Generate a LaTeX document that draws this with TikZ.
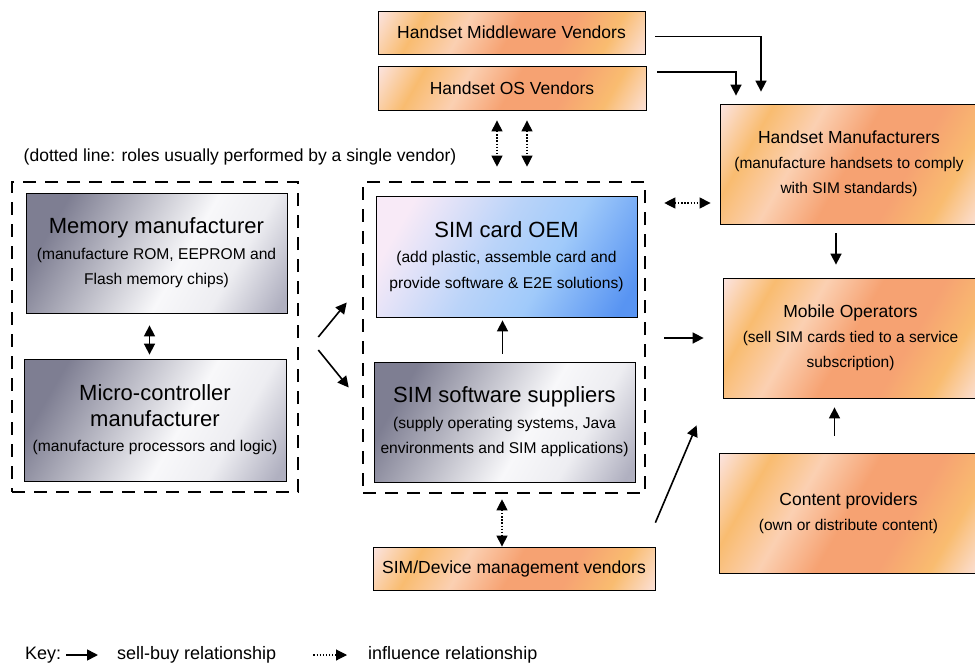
\documentclass[tikz,border=0pt]{standalone}
\usepackage{fontspec}
\setmainfont{Liberation Sans}
\usetikzlibrary{arrows.meta,positioning}

\definecolor{pkwhite}{RGB}{252,234,242}
\definecolor{orgA}{RGB}{249,188,112}
\definecolor{peachlt}{RGB}{251,208,178}
\definecolor{orgB}{RGB}{246,162,114}
\definecolor{mdark}{RGB}{126,126,146}
\definecolor{mlight}{RGB}{248,248,250}
\definecolor{mmid}{RGB}{176,176,192}
\definecolor{bpink}{RGB}{248,234,247}
\definecolor{bmid}{RGB}{160,202,250}
\definecolor{bdeep}{RGB}{88,148,242}

\pgfdeclarehorizontalshading{peach}{100bp}{color(0bp)=(pkwhite); color(14bp)=(pkwhite);
  color(27bp)=(orgA); color(38bp)=(peachlt); color(50bp)=(orgB); color(63bp)=(orgB);
  color(74bp)=(orgA); color(87bp)=(pkwhite); color(100bp)=(pkwhite)}
\pgfdeclarehorizontalshading{metal}{100bp}{color(0bp)=(mdark); color(25bp)=(mdark);
  color(56bp)=(mlight); color(68bp)=(mlight!85!mmid); color(82bp)=(mmid); color(100bp)=(mmid)}
\pgfdeclarehorizontalshading{azure}{100bp}{color(0bp)=(bpink); color(24bp)=(bpink);
  color(46bp)=(bmid!70!bpink); color(60bp)=(bmid); color(80bp)=(bdeep); color(100bp)=(bdeep)}

\begin{document}
\begin{tikzpicture}[x=1pt, y=-1pt,
  obox/.style={draw, line width=0.8pt, shading=peach, shading angle=-30, align=center,
    inner sep=0pt, font=\fontsize{15.5}{25}\selectfont},
  gbox/.style={draw, line width=0.8pt, shading=metal, shading angle=-30, align=center,
    inner sep=0pt, font=\fontsize{15.6}{25.5}\selectfont},
  bbox/.style={draw, line width=0.8pt, shading=azure, shading angle=-30, align=center,
    inner sep=0pt, font=\fontsize{15.6}{25.5}\selectfont},
  grp/.style={draw, line width=2.6pt, dash pattern=on 13pt off 9pt, inner sep=0pt},
  sb/.style={-{Triangle[length=11pt,width=11pt]}, line width=1.6pt},
  infl/.style={{Triangle[length=11pt,width=11pt]}-{Triangle[length=11pt,width=11pt]},
    line width=1.1pt, dash pattern=on 1.3pt off 1.8pt},
  mid/.style={font=\fontsize{17.5}{25}\selectfont}
]
\clip (0,0) rectangle (975,672);

% Groups (one vendor)
\node[grp, minimum width=286pt, minimum height=310pt] (leftgrp) at (155,337) {};
\node[grp, minimum width=282pt, minimum height=311pt] (midgrp) at (504,337.5) {};
\node[mid] (note) at (240,157) {(dotted line: roles usually performed by a single vendor)};

% Chip makers
\node[gbox, minimum width=261pt, minimum height=120pt] (mem) at (156.5,253)
  {{\fontsize{22}{26}\selectfont Memory manufacturer}\\(manufacture ROM, EEPROM and\\Flash memory chips)};
\node[gbox, minimum width=262pt, minimum height=122pt] (mcu) at (155,420)
  {{\fontsize{22}{26}\selectfont Micro-controller}\\{\fontsize{22}{26}\selectfont manufacturer}\\(manufacture processors and logic)};

% Card makers
\node[bbox, minimum width=261pt, minimum height=121pt] (oem) at (506.5,256.5)
  {{\fontsize{22}{26}\selectfont SIM card OEM}\\(add plastic, assemble card and\\provide software \& E2E solutions)};
\node[gbox, minimum width=261pt, minimum height=120pt] (sw) at (504.5,422)
  {{\fontsize{22}{26}\selectfont SIM software suppliers}\\(supply operating systems, Java\\environments and SIM applications)};

% Vendors
\node[obox, mid, minimum width=267pt, minimum height=43pt] (mw) at (511.5,32.5) {Handset Middleware Vendors};
\node[obox, mid, minimum width=268pt, minimum height=44pt] (os) at (512,88) {Handset OS Vendors};
\node[obox, mid, minimum width=282pt, minimum height=43pt] (sdm) at (514,568.5) {SIM/Device management vendors};

% Handsets, operators, content
\node[obox, minimum width=258pt, minimum height=120pt] (hm) at (849,164)
  {{\fontsize{17.5}{25}\selectfont Handset Manufacturers}\\(manufacture handsets to comply\\with SIM standards)};
\node[obox, minimum width=255pt, minimum height=120pt] (mo) at (850.5,338)
  {{\fontsize{17.5}{25}\selectfont Mobile Operators}\\(sell SIM cards tied to a service\\subscription)};
\node[obox, minimum width=259pt, minimum height=120pt] (cp) at (848.5,513)
  {{\fontsize{17.5}{25}\selectfont Content providers}\\(own or distribute content)};

% Key
\node[mid, font=\fontsize{18}{22}\selectfont, anchor=west, inner sep=0pt] (keyl) at (25,655) {Key:};
\node[mid, font=\fontsize{18}{22}\selectfont, anchor=west, inner sep=0pt] (ksb) at (117,655) {sell-buy relationship};
\node[mid, font=\fontsize{18}{22}\selectfont, anchor=west, inner sep=0pt] (kinf) at (368,655) {influence relationship};

% Arrows
\coordinate (hmin) at ([yshift=-39pt]hm.west);
\draw[sb, shorten <=10pt, shorten >=12pt] ([yshift=-4pt]mw.east) -| ([xshift=-88pt]hm.north);
\draw[sb, shorten <=11pt, shorten >=8pt] ([yshift=16pt]os.east) -| ([xshift=-113pt]hm.north);
\draw[sb, shorten <=9pt, shorten >=13pt] ([xshift=-13pt]hm.south) -- ([xshift=-13pt]hm.south |- mo.north);
\draw[sb, shorten <=17pt, shorten >=9pt] ([xshift=-14pt]cp.north) -- ([xshift=-14pt]cp.north |- mo.south);
\draw[sb, shorten <=18pt, shorten >=19pt] (midgrp.east |- mo.west) -- (mo.west);
\draw[sb] ([yshift=24pt]sdm.north east) -- ([xshift=-26pt,yshift=-27pt]mo.south west);
\draw[sb, shorten <=8pt, shorten >=3pt] ([xshift=-2pt]sw.north) -- ([xshift=-2pt]sw.north |- oem.south);
\draw[sb] ([xshift=19pt]leftgrp.east) -- ([xshift=-15pt,yshift=35pt]midgrp.west);
\draw[sb] ([xshift=19pt,yshift=-13pt]leftgrp.east) -- ([xshift=-13pt,yshift=-50pt]midgrp.west);
\draw[sb, {Triangle[length=11pt,width=11pt]}-{Triangle[length=11pt,width=11pt]},
  shorten <=12pt, shorten >=4pt] ([xshift=-7pt]mem.south) -- ([xshift=-7pt]mem.south |- mcu.north);
\draw[infl, shorten <=10pt, shorten >=14pt] ([xshift=-15pt]os.south) -- ([xshift=-15pt]os.south |- midgrp.north);
\draw[infl, shorten <=10pt, shorten >=14pt] ([xshift=15pt]os.south) -- ([xshift=15pt]os.south |- midgrp.north);
\draw[infl, shorten <=18pt, shorten >=9pt] (midgrp.east |- hmin) -- (hmin);
\draw[infl, shorten <=5pt] ([xshift=-12pt]sdm.north |- midgrp.south) -- ([xshift=-12pt]sdm.north);
\draw[sb, shorten <=5pt, shorten >=19pt] (keyl.east) -- (ksb.west);
\draw[infl, {}-{Triangle[length=11pt,width=11pt]}, shorten <=37pt, shorten >=21pt] (ksb.east) -- (kinf.west);

\end{tikzpicture}
\end{document}
